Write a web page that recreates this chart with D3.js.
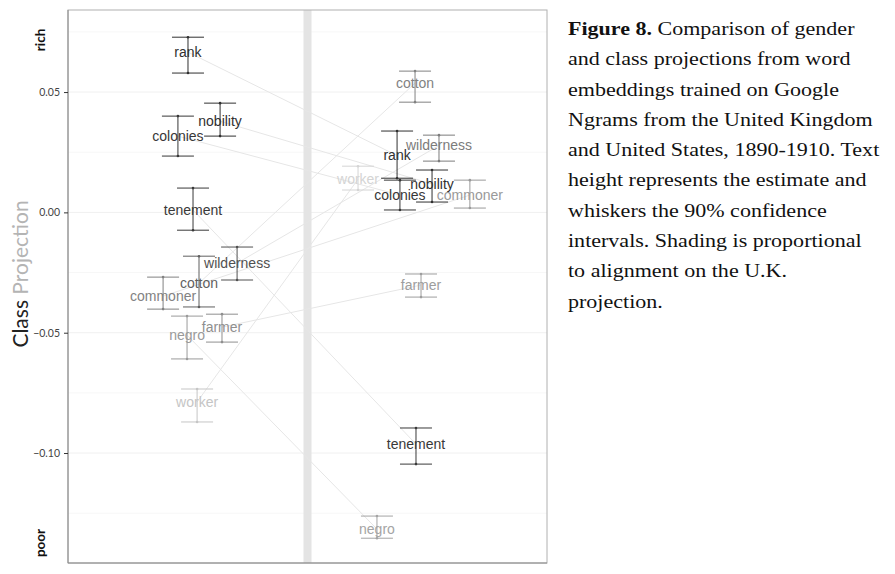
<!DOCTYPE html>
<html>
<head>
<meta charset="utf-8">
<script src="https://cdn.jsdelivr.net/npm/d3@7"></script>
<style>
  body { margin: 0; background: #fff; }
  svg { display: block; }
</style>
</head>
<body>
<script>
// words, UK (1890-1910) and US projections with 90% intervals
var words   = ["rank", "nobility", "colonies", "tenement", "wilderness", "cotton", "commoner", "farmer", "negro", "worker"];
var ukEst   = [0.0666, 0.0379, 0.0317, 0.0010, -0.0211, -0.0294, -0.0348, -0.0477, -0.0510, -0.0788];
var ukHi    = [0.0728, 0.0454, 0.0400, 0.0101, -0.0144, -0.0182, -0.0269, -0.0423, -0.0431, -0.0734];
var ukLo    = [0.0579, 0.0317, 0.0234, -0.0074, -0.0281, -0.0393, -0.0402, -0.0539, -0.0609, -0.0871];
var usEst   = [0.0236, 0.0118, 0.0072, -0.0963, 0.0278, 0.0537, 0.0072, -0.0302, -0.1316, 0.0138];
var usHi    = [0.0338, 0.0176, 0.0134, -0.0896, 0.0321, 0.0587, 0.0134, -0.0256, -0.1262, 0.0192];
var usLo    = [0.0142, 0.0043, 0.0010, -0.1046, 0.0213, 0.0458, 0.0018, -0.0352, -0.1354, 0.0093];
// horizontal jitter (group 1 = UK, group 2 = US)
var ukJit   = [1.001, 1.135, 0.959, 1.022, 1.206, 1.047, 0.897, 1.143, 0.997, 1.039];
var usJit   = [1.874, 2.020, 1.886, 1.953, 2.049, 1.949, 2.178, 1.974, 1.790, 1.711];
// alignment used for shading
var ukShade = [1.00, 1.00, 0.96, 0.95, 0.82, 0.74, 0.55, 0.48, 0.42, 0.18];
var usShade = [1.00, 1.00, 0.96, 0.95, 0.58, 0.55, 0.42, 0.40, 0.36, 0.10];
var yTicks  = [0.05, 0.00, -0.05, -0.10];
var yMinor  = [0.075, 0.025, -0.025, -0.075, -0.125];
var caption = ["Comparison of gender", "and class projections from word", "embeddings trained on Google",
  "Ngrams from the United Kingdom", "and United States, 1890-1910. Text", "height represents the estimate and",
  "whiskers the 90% confidence", "intervals. Shading is proportional", "to alignment on the U.K.", "projection."];

var width = 895, height = 574;
var pLeft = 68, pRight = 547, pTop = 10, pBottom = 563;

var svg = d3.select("body").append("svg")
    .attr("width", width)
    .attr("height", height);

var x = d3.scaleLinear().domain([0.5, 2.5]).range([pLeft, pRight]);
var y = d3.scaleLinear().domain([-0.1457, 0.0841]).range([pBottom, pTop]);
var shade = d3.scaleLinear().domain([0, 1]).range(["#e6e6e6", "#303030"]);

// grid
svg.selectAll(".minor").data(yMinor).enter().append("line")
    .attr("x1", pLeft).attr("x2", pRight)
    .attr("y1", d => y(d)).attr("y2", d => y(d))
    .attr("stroke", "#f7f7f7").attr("stroke-width", 1);
svg.selectAll(".major").data(yTicks).enter().append("line")
    .attr("x1", pLeft).attr("x2", pRight)
    .attr("y1", d => y(d)).attr("y2", d => y(d))
    .attr("stroke", "#f0f0f0").attr("stroke-width", 1);

// divider band
svg.append("rect")
    .attr("x", x(1.5) - 4).attr("y", pTop)
    .attr("width", 8).attr("height", pBottom - pTop)
    .attr("fill", "#e4e4e4");

// panel border
svg.append("rect")
    .attr("x", pLeft).attr("y", pTop)
    .attr("width", pRight - pLeft).attr("height", pBottom - pTop)
    .attr("fill", "none").attr("stroke", "#b0b0b0");
svg.append("path")
    .attr("d", "M" + pLeft + "," + pTop + "V" + pBottom + "H" + pRight)
    .attr("fill", "none").attr("stroke", "#8a8a8a");

// axis
var axis = svg.append("g")
    .attr("transform", "translate(" + pLeft + ",0)")
    .call(d3.axisLeft(y).tickValues(yTicks).tickSize(4).tickPadding(4)
      .tickFormat(d3.format(".2f")));
axis.select(".domain").remove();
axis.selectAll(".tick line").attr("stroke", "#333");
axis.selectAll(".tick text")
    .attr("fill", "#444")
    .style("font-family", "Lato, sans-serif")
    .style("font-size", "10.5px");

var yl = svg.append("text")
    .attr("transform", "translate(28," + 274 + ") rotate(-90)")
    .attr("text-anchor", "middle")
    .style("font-family", "Lato, sans-serif")
    .style("font-size", "21px");
yl.append("tspan").attr("fill", "#222").text("Class ");
yl.append("tspan").attr("fill", "#b4b4b4").text("Projection");

svg.append("text")
    .attr("transform", "translate(45,40) rotate(-90)")
    .attr("text-anchor", "middle")
    .style("font-family", "Lato, sans-serif").style("font-weight", "bold")
    .style("font-size", "13.5px").attr("fill", "#111")
    .text("rich");
svg.append("text")
    .attr("transform", "translate(45,543) rotate(-90)")
    .attr("text-anchor", "middle")
    .style("font-family", "Lato, sans-serif").style("font-weight", "bold")
    .style("font-size", "13.5px").attr("fill", "#111")
    .text("poor");

var idx = d3.range(words.length);

// connecting segments
svg.selectAll(".seg").data(idx).enter().append("line")
    .attr("x1", i => x(ukJit[i])).attr("y1", i => y(ukEst[i]))
    .attr("x2", i => x(usJit[i])).attr("y2", i => y(usEst[i]))
    .attr("stroke", "#e6e6e6").attr("stroke-width", 1);

function drawSide(est, lo, hi, jit, sh) {
  var g = svg.append("g");
  var items = g.selectAll("g").data(idx).enter().append("g")
      .attr("stroke", i => shade(sh[i])).attr("fill", i => shade(sh[i]));
  items.append("line")
      .attr("x1", i => x(jit[i])).attr("x2", i => x(jit[i]))
      .attr("y1", i => y(lo[i])).attr("y2", i => y(hi[i]));
  [lo, hi].forEach(function(v) {
    items.append("line")
        .attr("x1", i => x(jit[i]) - 16).attr("x2", i => x(jit[i]) + 16)
        .attr("y1", i => y(v[i])).attr("y2", i => y(v[i]));
    items.append("circle")
        .attr("cx", i => x(jit[i])).attr("cy", i => y(v[i]))
        .attr("r", 1.3).attr("stroke", "none");
  });
  items.append("text")
      .attr("x", i => x(jit[i])).attr("y", i => y(est[i]))
      .attr("dy", "0.35em")
      .attr("text-anchor", "middle")
      .attr("stroke", "none")
      .style("font-family", "'Liberation Sans', Arial, sans-serif")
      .style("font-size", "14px")
      .text(i => words[i]);
}
drawSide(ukEst, ukLo, ukHi, ukJit, ukShade);
drawSide(usEst, usLo, usHi, usJit, usShade);

// caption
var cap = svg.append("text")
    .attr("transform", "translate(568,0) scale(1.13,1)")
    .style("font-family", "'Liberation Serif', 'Times New Roman', serif")
    .style("font-size", "19.5px")
    .attr("fill", "#111");
caption.forEach(function(line, k) {
  var t = cap.append("tspan").attr("x", 0).attr("y", 35 + k * 30.3);
  if (k === 0) t.append("tspan").style("font-weight", "bold").text("Figure 8. ");
  t.append("tspan").text(line);
});
</script>
</body>
</html>
